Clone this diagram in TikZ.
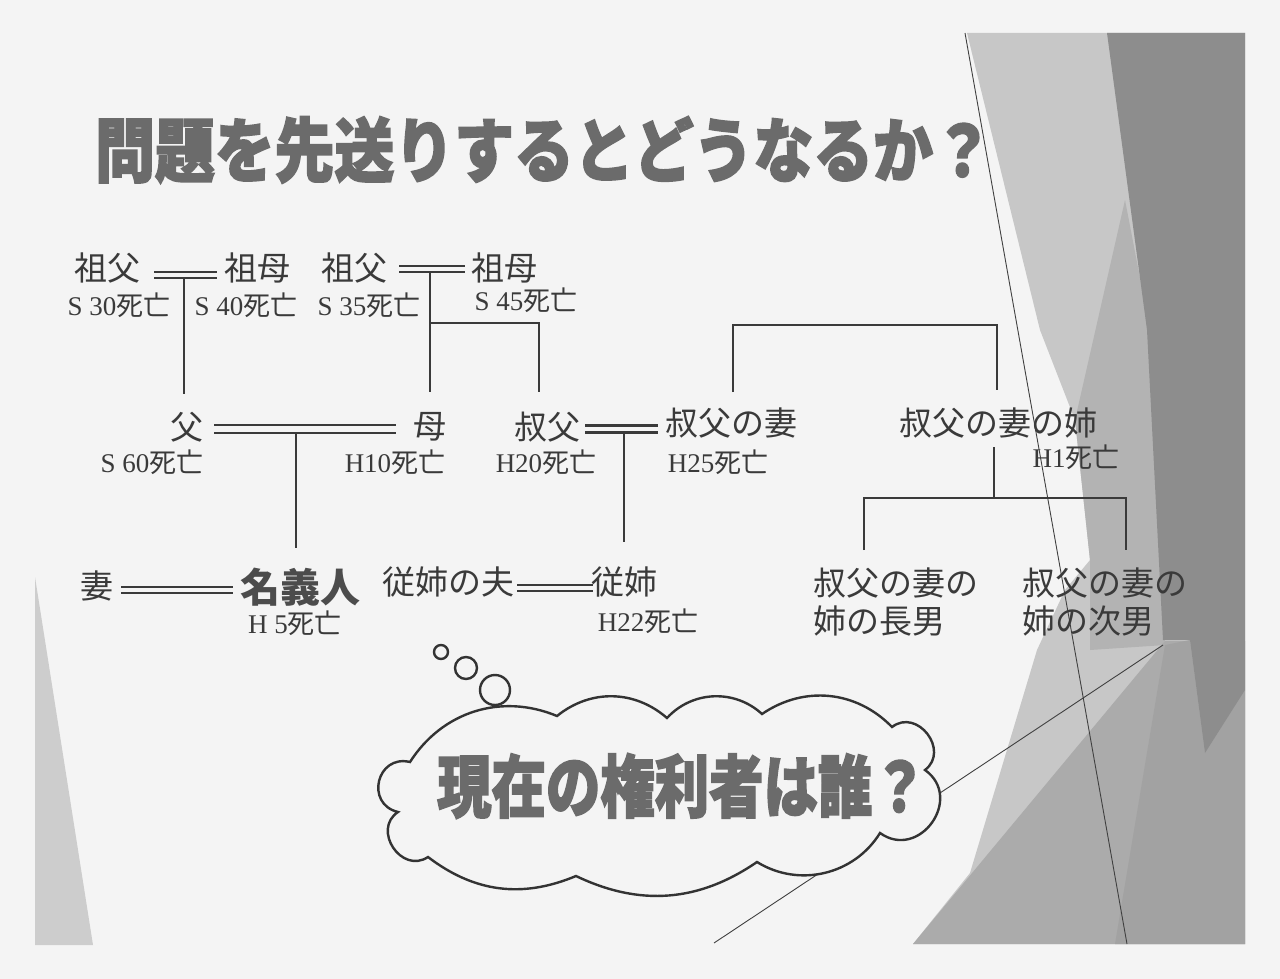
\documentclass[tikz,border=0pt]{standalone}
\usepackage{fontspec}
\setmainfont{Liberation Serif}
\newfontfamily\cjk{Noto Sans CJK JP}
\newfontfamily\cjkh{Noto Sans CJK JP}[BoldFeatures={FakeBold=2.5}]
\newfontfamily\serifl{Liberation Serif}
\definecolor{bgc}{HTML}{F4F4F4}
\definecolor{ink}{HTML}{3A3A3A}
\definecolor{lg}{HTML}{C7C7C7}
\definecolor{mg}{HTML}{B3B3B3}
\definecolor{mgb}{HTML}{ABABAB}
\definecolor{mgc}{HTML}{A2A2A2}
\definecolor{dg}{HTML}{8D8D8D}
\definecolor{ttl}{HTML}{6B6B6B}
\newcommand\dead[1]{{\serifl #1}{\cjk 死亡}}
\begin{document}
\begin{tikzpicture}[x=0.5pt,y=-0.5pt,
  nm/.style={font=\cjk\fontsize{16.5}{19}\selectfont, text=ink, inner sep=0pt},
  dl/.style={font=\fontsize{13.5}{15}\selectfont, text=ink, inner sep=0pt},
  ln/.style={draw=ink, line width=1.2pt},
  dbl/.style={draw=ink, line width=1.1pt, double=bgc, double distance=#1},
  dbl/.default=2pt,
  thinln/.style={draw=black!75, line width=0.45pt},
  cloudln/.style={draw=black!80, line width=1.2pt, fill=bgc}
]
\useasboundingbox (0,0) rectangle (1280,979);
\fill[bgc] (0,0) rectangle (1280,979);

% slide decorations
\fill[lg!90!white] (35,577) -- (35,945) -- (93,945) -- cycle;
\fill[lg] (967,33) -- (1245,33) -- (1245,944) -- (913,944) -- (970,873) -- (1037,650) -- (1065,590) -- (1090,560) -- (1075,420) -- (1040,330) -- cycle;
\fill[mg] (1125,200) -- (1150,330) -- (1165,645) -- (1090,650) -- (1090,560) -- (1075,420) -- cycle;
\fill[mgb] (913,944) -- (1165,641) -- (1245,641) -- (1245,944) -- cycle;
\fill[mgc] (1115,944) -- (1165,645) -- (1190,640) -- (1205,753) -- (1245,690) -- (1245,944) -- cycle;
\fill[dg] (1107,33) -- (1245,33) -- (1245,690) -- (1205,753) -- (1190,640) -- (1163,640) -- (1147,330) -- cycle;
\draw[thinln] (965,33) -- (1127,944);
\draw[thinln] (714,943) -- (1163,645);

% thought bubble
\draw[cloudln] (410,762) to[bend left=40] (557,716) to[bend left=40] (667,718)
  to[bend left=45] (762,714) to[bend left=40] (892,727)
  to[bend left=90,looseness=1.5] (925,770) to[bend left=90,looseness=1.6] (880,833)
  to[bend left=45] (757,862) to[bend left=30] (576,876) to[bend left=30] (428,857)
  to[bend left=90,looseness=1.5] (398,812) to[bend left=90,looseness=1.7] (410,762) -- cycle;
\draw[draw=black!80, line width=1.2pt, fill=bgc] (441,652) circle[radius=3.5pt];
\draw[draw=black!80, line width=1.2pt, fill=bgc] (466,668) circle[radius=5.5pt];
\draw[draw=black!80, line width=1.2pt, fill=bgc] (495,690) circle[radius=7.5pt];
\node[font=\cjkh\bfseries\fontsize{34}{36}\selectfont, text=ttl, inner sep=0pt] (q) at (682,786) {\scalebox{0.8}[1]{現在の権利者は誰？}};

% title
\node[font=\cjkh\bfseries\fontsize{35}{38}\selectfont, text=ttl, inner sep=0pt] (title) at (544,150) {\scalebox{0.855}[1]{問題を先送りするとどうなるか？}};

% generation 1
\node[nm] (gf1) at (107,268) {祖父};
\node[nm] (gm1) at (257,268) {祖母};
\node[nm] (gf2) at (354,268) {祖父};
\node[nm] (gm2) at (504,268) {祖母};
\node[dl] (dgf1) at (119,305) {\dead{S 30}};
\node[dl] (dgm1) at (246,305) {\dead{S 40}};
\node[dl] (dgf2) at (369,305) {\dead{S 35}};
\node[dl] (dgm2) at (526,300) {\dead{S 45}};

% generation 2
\node[nm] (fa) at (187,427) {父};
\node[nm] (mo) at (430,427) {母};
\node[nm] (un) at (547,427) {叔父};
\node[nm] (uw) at (731,423) {叔父の妻};
\node[nm] (uws) at (998,423) {叔父の妻の姉};
\node[dl] (dfa) at (152,462) {\dead{S 60}};
\node[dl] (dmo) at (395,462) {\dead{H10}};
\node[dl] (dun) at (546,462) {\dead{H20}};
\node[dl] (duw) at (718,462) {\dead{H25}};
\node[dl] (duws) at (1076,457) {\dead{H1}};

% generation 3
\node[nm] (wife) at (97,586) {妻};
\node[font=\cjk\bfseries\fontsize{20}{22}\selectfont, text=black!70, inner sep=0pt] (nom) at (300,587) {名義人};
\node[dl] (dnom) at (295,623) {\dead{H 5}};
\node[nm] (cfh) at (448,582) {従姉の夫};
\node[nm] (cous) at (624,582) {従姉};
\node[dl] (dcous) at (648,621) {\dead{H22}};
\node[nm, align=left] (s1) at (896,602) {叔父の妻の\\姉の長男};
\node[nm, align=left] (s2) at (1105,602) {叔父の妻の\\姉の次男};

% marriage anchors
\coordinate (m1a) at (154,275); \coordinate (m1b) at (217,275); \coordinate (m1c) at (184,278);
\coordinate (m2a) at (399,269); \coordinate (m2b) at (465,269); \coordinate (m2c) at (430,272);
\coordinate (m3a) at (214,429); \coordinate (m3b) at (396,429); \coordinate (m3c) at (296,433);
\coordinate (m4a) at (585,429); \coordinate (m4b) at (658,429); \coordinate (m4c) at (624,433);
\coordinate (m5a) at (121,590); \coordinate (m5b) at (233,590);
\coordinate (m6a) at (517,588); \coordinate (m6b) at (593,588);
\coordinate (br) at (430,323);
\coordinate (sibL) at (733,325); \coordinate (sibR) at (997,325);
\coordinate (kid) at (994,498); \coordinate (kidL) at (864,498); \coordinate (kidR) at (1126,498);

% connectors
\draw[dbl=1.9pt] (m1a) -- (m1b);
\draw[dbl=1.9pt] (m2a) -- (m2b);
\draw[dbl=2.9pt] (m3a) -- (m3b);
\draw[dbl=2.4pt] (m4a) -- (m4b);
\draw[dbl=2.2pt] (m5a) -- (m5b);
\draw[dbl=2.2pt] (m6a) -- (m6b);
\draw[ln] (m1c) -- (184,394) coordinate (faTop);
\draw[ln] (m2c) -- (430,392) coordinate (moTop);
\draw[ln] (br) -| (539,392) coordinate (unTop);
\draw[ln] (m3c) -- (296,548) coordinate (nomTop);
\draw[ln] (m4c) -- (624,542) coordinate (cousTop);
\draw[ln] (733,392) coordinate (uwTop) -- (sibL) -- (sibR) -- (997,390) coordinate (uwsTop);
\draw[ln] (994,447) coordinate (uwsBot) -- (kid);
\draw[ln] (864,550) coordinate (s1Top) -- (kidL) -- (kidR) -- (1126,550) coordinate (s2Top);
\end{tikzpicture}
\end{document}
